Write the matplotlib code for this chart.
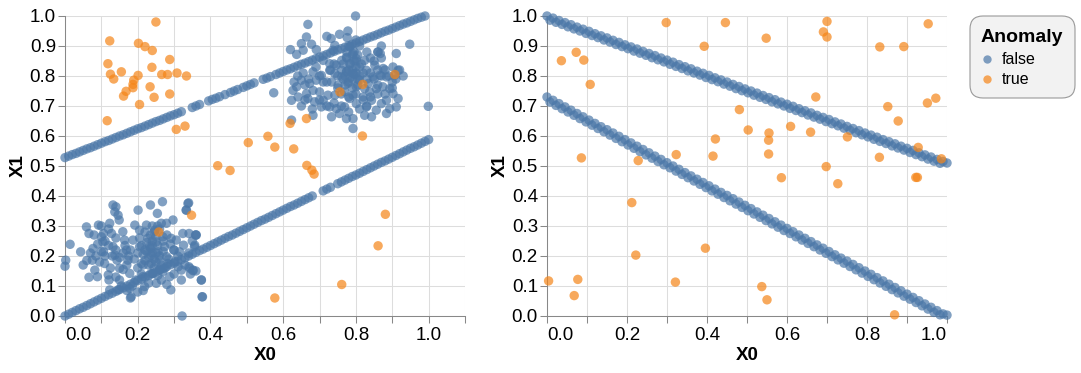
import numpy as np
import matplotlib
matplotlib.use("Agg")
import matplotlib.pyplot as plt
from matplotlib.patches import FancyBboxPatch
from matplotlib.lines import Line2D

plt.rcParams['font.family'] = ['Liberation Sans', 'DejaVu Sans']

# ---- data, left panel ----
# upper line of normal points
lu_x = [0.00, 0.01, 0.02, 0.03, 0.04, 0.05, 0.06, 0.07, 0.08, 0.09, 0.10, 0.11, 0.12, 0.13, 0.14, 0.15,
        0.16, 0.17, 0.18, 0.19, 0.20, 0.21, 0.22, 0.23, 0.24, 0.25, 0.26, 0.27, 0.28, 0.29, 0.30, 0.31,
        0.32, 0.35, 0.36, 0.37, 0.395, 0.405, 0.415, 0.425, 0.44, 0.455, 0.465, 0.475, 0.49, 0.50, 0.51,
        0.52, 0.545, 0.555, 0.565, 0.58, 0.59, 0.60, 0.61, 0.62, 0.63, 0.64, 0.65, 0.66, 0.67, 0.68, 0.69,
        0.70, 0.71, 0.72, 0.73, 0.74, 0.75, 0.76, 0.77, 0.78, 0.79, 0.80, 0.81, 0.82, 0.83, 0.84, 0.85,
        0.86, 0.87, 0.88, 0.89, 0.90, 0.91, 0.92, 0.93, 0.94, 0.95, 0.96, 0.97, 0.98, 0.99]
lu_y = [0.528, 0.533, 0.538, 0.542, 0.547, 0.552, 0.557, 0.561, 0.566, 0.571, 0.576, 0.581, 0.585, 0.590,
        0.595, 0.600, 0.604, 0.609, 0.614, 0.619, 0.624, 0.628, 0.633, 0.638, 0.643, 0.648, 0.652, 0.657,
        0.662, 0.667, 0.671, 0.676, 0.681, 0.695, 0.700, 0.705, 0.717, 0.722, 0.726, 0.731, 0.738, 0.745,
        0.750, 0.755, 0.762, 0.767, 0.772, 0.777, 0.789, 0.793, 0.798, 0.805, 0.810, 0.815, 0.820, 0.824,
        0.829, 0.834, 0.839, 0.843, 0.848, 0.853, 0.858, 0.863, 0.867, 0.872, 0.877, 0.882, 0.887, 0.891,
        0.896, 0.901, 0.906, 0.910, 0.915, 0.920, 0.925, 0.930, 0.934, 0.939, 0.944, 0.949, 0.953, 0.958,
        0.963, 0.968, 0.973, 0.977, 0.982, 0.987, 0.992, 0.996, 1.000]

# lower line of normal points
ll_x = [0.00, 0.01, 0.02, 0.03, 0.04, 0.05, 0.06, 0.07, 0.08, 0.09, 0.10, 0.11, 0.12, 0.13, 0.14, 0.15,
        0.16, 0.17, 0.18, 0.19, 0.20, 0.21, 0.22, 0.23, 0.24, 0.25, 0.26, 0.27, 0.28, 0.29, 0.30, 0.31,
        0.32, 0.33, 0.34, 0.35, 0.36, 0.37, 0.38, 0.39, 0.40, 0.41, 0.42, 0.43, 0.44, 0.45, 0.46, 0.47,
        0.48, 0.49, 0.50, 0.51, 0.52, 0.53, 0.54, 0.55, 0.56, 0.57, 0.58, 0.59, 0.60, 0.61, 0.62, 0.63,
        0.64, 0.65, 0.66, 0.67, 0.68, 0.71, 0.72, 0.73, 0.75, 0.76, 0.77, 0.78, 0.79, 0.80, 0.81, 0.82,
        0.83, 0.84, 0.85, 0.86, 0.87, 0.88, 0.89, 0.90, 0.91, 0.92, 0.93, 0.94, 0.95, 0.96, 0.97, 0.98,
        0.99, 1.00]
ll_y = [0.000, 0.006, 0.012, 0.018, 0.024, 0.029, 0.035, 0.041, 0.047, 0.053, 0.059, 0.065, 0.071, 0.076,
        0.082, 0.088, 0.094, 0.100, 0.106, 0.112, 0.118, 0.123, 0.129, 0.135, 0.141, 0.147, 0.153, 0.159,
        0.165, 0.171, 0.176, 0.182, 0.188, 0.194, 0.200, 0.206, 0.212, 0.218, 0.223, 0.229, 0.235, 0.241,
        0.247, 0.253, 0.259, 0.265, 0.270, 0.276, 0.282, 0.288, 0.294, 0.300, 0.306, 0.312, 0.318, 0.323,
        0.329, 0.335, 0.341, 0.347, 0.353, 0.359, 0.365, 0.370, 0.376, 0.382, 0.388, 0.394, 0.400, 0.417,
        0.423, 0.429, 0.441, 0.447, 0.453, 0.459, 0.465, 0.470, 0.476, 0.482, 0.488, 0.494, 0.500, 0.506,
        0.512, 0.517, 0.523, 0.529, 0.535, 0.541, 0.547, 0.553, 0.559, 0.564, 0.570, 0.576, 0.582, 0.588]

# lower-left cluster
c1_x = [0.002, 0.000, 0.014, 0.043, 0.059, 0.066, 0.092, 0.066, 0.089, 0.077, 0.075, 0.082, 0.100, 0.106,
        0.104, 0.106, 0.109, 0.119, 0.121, 0.123, 0.132, 0.137, 0.140, 0.146, 0.149, 0.123, 0.128, 0.132,
        0.137, 0.143, 0.150, 0.150, 0.146, 0.159, 0.164, 0.169, 0.173, 0.178, 0.178, 0.182, 0.187, 0.192,
        0.201, 0.205, 0.205, 0.210, 0.214, 0.219, 0.224, 0.228, 0.233, 0.235, 0.237, 0.237, 0.242, 0.247,
        0.251, 0.251, 0.254, 0.256, 0.260, 0.265, 0.268, 0.269, 0.269, 0.274, 0.279, 0.279, 0.283, 0.288,
        0.291, 0.292, 0.297, 0.299, 0.302, 0.306, 0.311, 0.315, 0.320, 0.324, 0.326, 0.334, 0.338, 0.341,
        0.343, 0.352, 0.357, 0.361, 0.375, 0.378, 0.322, 0.377, 0.375, 0.352, 0.341, 0.359, 0.340, 0.333,
        0.356,
        0.215, 0.225, 0.235, 0.245, 0.250, 0.255, 0.240, 0.230, 0.220, 0.260, 0.265, 0.245, 0.235, 0.250,
        0.270, 0.210, 0.200, 0.190, 0.180, 0.175, 0.160, 0.165, 0.150, 0.140, 0.130, 0.120, 0.110, 0.100,
        0.095, 0.085, 0.070, 0.060, 0.050, 0.200, 0.210, 0.195, 0.185, 0.170, 0.155, 0.140, 0.125, 0.205,
        0.220, 0.240, 0.260, 0.280, 0.290, 0.300, 0.310, 0.285, 0.275, 0.255, 0.265, 0.280, 0.300, 0.320,
        0.330, 0.340, 0.350, 0.360, 0.345, 0.360, 0.230, 0.215, 0.200, 0.180, 0.160, 0.170, 0.110, 0.090,
        0.080, 0.120, 0.100, 0.140, 0.225, 0.235, 0.245, 0.255, 0.270, 0.230, 0.240, 0.250, 0.260, 0.240,
        0.220, 0.215]
c1_y = [0.186, 0.166, 0.239, 0.214, 0.297, 0.275, 0.303, 0.129, 0.131, 0.225, 0.186, 0.153, 0.264, 0.275,
        0.247, 0.214, 0.175, 0.137, 0.120, 0.087, 0.370, 0.347, 0.364, 0.336, 0.320, 0.309, 0.275, 0.231,
        0.203, 0.186, 0.159, 0.120, 0.087, 0.281, 0.253, 0.220, 0.186, 0.142, 0.092, 0.064, 0.253, 0.303,
        0.353, 0.286, 0.231, 0.175, 0.131, 0.098, 0.303, 0.259, 0.231, 0.370, 0.203, 0.175, 0.142, 0.286,
        0.247, 0.109, 0.342, 0.214, 0.186, 0.309, 0.381, 0.264, 0.148, 0.231, 0.198, 0.309, 0.175, 0.131,
        0.087, 0.259, 0.320, 0.220, 0.181, 0.253, 0.164, 0.214, 0.153, 0.275, 0.236, 0.353, 0.375, 0.275,
        0.159, 0.153, 0.236, 0.270, 0.120, 0.064, 0.000, 0.064, 0.120, 0.151, 0.164, 0.270, 0.377, 0.353,
        0.231,
        0.205, 0.215, 0.225, 0.190, 0.210, 0.235, 0.250, 0.170, 0.185, 0.200, 0.170, 0.160, 0.140, 0.265,
        0.215, 0.235, 0.210, 0.190, 0.220, 0.200, 0.210, 0.235, 0.195, 0.220, 0.200, 0.235, 0.200, 0.215,
        0.180, 0.200, 0.210, 0.185, 0.170, 0.160, 0.140, 0.120, 0.100, 0.085, 0.100, 0.130, 0.160, 0.260,
        0.280, 0.300, 0.290, 0.270, 0.240, 0.220, 0.200, 0.190, 0.160, 0.135, 0.120, 0.105, 0.140, 0.120,
        0.170, 0.210, 0.250, 0.270, 0.140, 0.150, 0.110, 0.085, 0.080, 0.060, 0.155, 0.170, 0.250, 0.240,
        0.270, 0.290, 0.300, 0.260, 0.245, 0.270, 0.280, 0.300, 0.250, 0.195, 0.210, 0.180, 0.155, 0.235,
        0.220, 0.170]

# upper-right cluster
c2_x = [0.799, 0.668, 0.664, 0.620, 0.637, 0.650, 0.655, 0.678, 0.720, 0.732, 0.755, 0.778, 0.776, 0.742,
        0.737, 0.691, 0.948, 0.911, 0.861, 0.867, 0.824, 0.783, 0.792, 0.774, 0.761, 0.710, 0.728, 0.746,
        0.783, 0.801, 0.810, 0.829, 0.852, 0.875, 0.902, 0.916, 0.907, 0.884, 0.866, 0.847, 0.834, 0.810,
        0.792, 0.774, 0.761, 0.742, 0.728, 0.705, 0.682, 0.655, 0.650, 0.673, 0.691, 0.710, 0.733, 0.751,
        0.778, 0.801, 0.824, 0.838, 0.856, 0.874, 0.893, 0.902, 0.916, 0.884, 0.870, 0.843, 0.820, 0.792,
        0.769, 0.742, 0.723, 0.700, 0.682, 0.664, 0.637, 0.627, 0.623, 0.641, 0.668, 0.686, 0.710, 0.728,
        0.746, 0.769, 0.783, 0.801, 0.829, 0.856, 0.884, 0.893, 0.911, 0.999, 0.843, 0.824, 0.792, 0.774,
        0.755, 0.733, 0.705, 0.682, 0.623, 0.792, 0.574,
        0.770, 0.780, 0.790, 0.800, 0.785, 0.775, 0.795, 0.810, 0.805, 0.790, 0.770, 0.760, 0.750, 0.765,
        0.780, 0.800, 0.815, 0.820, 0.830, 0.840, 0.850, 0.860, 0.870, 0.880, 0.890, 0.900, 0.860, 0.850,
        0.870, 0.740, 0.730, 0.720, 0.700, 0.690, 0.670, 0.660, 0.640, 0.630, 0.750, 0.760, 0.780, 0.800,
        0.820, 0.840, 0.860, 0.880, 0.900, 0.910, 0.920, 0.930, 0.720, 0.740, 0.760, 0.780, 0.810, 0.830,
        0.700, 0.680, 0.660, 0.650, 0.795, 0.805, 0.775, 0.810, 0.800, 0.785, 0.790, 0.775, 0.795, 0.785,
        0.765, 0.805, 0.800, 0.790, 0.840, 0.830, 0.860, 0.870]
c2_y = [1.000, 0.972, 0.930, 0.888, 0.872, 0.908, 0.886, 0.906, 0.932, 0.925, 0.939, 0.950, 0.928, 0.902,
        0.886, 0.888, 0.906, 0.875, 0.880, 0.875, 0.852, 0.897, 0.875, 0.863, 0.852, 0.852, 0.841, 0.836,
        0.841, 0.858, 0.830, 0.819, 0.836, 0.825, 0.830, 0.819, 0.802, 0.797, 0.802, 0.797, 0.775, 0.786,
        0.808, 0.814, 0.797, 0.808, 0.819, 0.802, 0.814, 0.810, 0.786, 0.775, 0.786, 0.780, 0.780, 0.769,
        0.775, 0.764, 0.758, 0.747, 0.758, 0.764, 0.758, 0.741, 0.725, 0.719, 0.708, 0.719, 0.730, 0.736,
        0.747, 0.736, 0.736, 0.747, 0.752, 0.741, 0.764, 0.752, 0.719, 0.730, 0.725, 0.714, 0.719, 0.697,
        0.691, 0.697, 0.725, 0.708, 0.697, 0.686, 0.675, 0.691, 0.697, 0.699, 0.664, 0.669, 0.658, 0.658,
        0.675, 0.664, 0.697, 0.669, 0.653, 0.625, 0.744,
        0.800, 0.820, 0.790, 0.810, 0.840, 0.860, 0.850, 0.800, 0.770, 0.760, 0.770, 0.820, 0.800, 0.840,
        0.780, 0.830, 0.840, 0.810, 0.790, 0.810, 0.790, 0.820, 0.800, 0.820, 0.800, 0.780, 0.770, 0.850,
        0.860, 0.840, 0.820, 0.780, 0.800, 0.830, 0.790, 0.770, 0.800, 0.780, 0.760, 0.740, 0.730, 0.740,
        0.720, 0.730, 0.740, 0.740, 0.760, 0.790, 0.820, 0.800, 0.700, 0.710, 0.700, 0.680, 0.690, 0.700,
        0.720, 0.690, 0.720, 0.700, 0.880, 0.870, 0.880, 0.900, 0.920, 0.900, 0.820, 0.815, 0.805, 0.795,
        0.790, 0.790, 0.850, 0.870, 0.860, 0.880, 0.880, 0.900]

# anomalies, left panel
la_x = [0.123, 0.118, 0.125, 0.134, 0.155, 0.116, 0.161, 0.168, 0.189, 0.187, 0.187, 0.202, 0.220, 0.201,
        0.205, 0.250, 0.240, 0.239, 0.234, 0.245, 0.266, 0.282, 0.288, 0.288, 0.308, 0.334, 0.306, 0.330,
        0.420, 0.454, 0.504, 0.558, 0.577, 0.629, 0.619, 0.664, 0.665, 0.679, 0.685, 0.756, 0.819, 0.818,
        0.907, 0.881, 0.861, 0.761, 0.577, 0.348, 0.258]
la_y = [0.917, 0.841, 0.806, 0.790, 0.814, 0.651, 0.733, 0.749, 0.786, 0.772, 0.761, 0.909, 0.898, 0.802,
        0.705, 0.980, 0.885, 0.829, 0.764, 0.729, 0.805, 0.805, 0.855, 0.740, 0.810, 0.800, 0.622, 0.633,
        0.501, 0.485, 0.578, 0.599, 0.563, 0.557, 0.642, 0.658, 0.502, 0.486, 0.473, 0.747, 0.772, 0.600,
        0.805, 0.339, 0.234, 0.105, 0.060, 0.336, 0.280]

# ---- data, right panel ----
r_x = [0.000, 0.015, 0.030, 0.045, 0.060, 0.075, 0.090, 0.105, 0.120, 0.135, 0.150, 0.165, 0.180, 0.195,
       0.210, 0.225, 0.240, 0.255, 0.270, 0.285, 0.300, 0.315, 0.330, 0.345, 0.360, 0.375, 0.390, 0.405,
       0.420, 0.435, 0.450, 0.465, 0.480, 0.495, 0.510, 0.525, 0.540, 0.555, 0.570, 0.585, 0.600, 0.615,
       0.630, 0.645, 0.660, 0.675, 0.690, 0.705, 0.720, 0.735, 0.750, 0.765, 0.780, 0.795, 0.810, 0.825,
       0.840, 0.855, 0.870, 0.885, 0.900, 0.915, 0.930, 0.945, 0.960, 0.975, 0.990, 1.000]
ru_y = [1.000, 0.993, 0.985, 0.978, 0.971, 0.963, 0.956, 0.949, 0.941, 0.934, 0.927, 0.919, 0.912, 0.904,
        0.897, 0.890, 0.882, 0.875, 0.868, 0.860, 0.853, 0.846, 0.838, 0.831, 0.824, 0.816, 0.809, 0.802,
        0.794, 0.787, 0.780, 0.772, 0.765, 0.757, 0.750, 0.743, 0.735, 0.728, 0.721, 0.713, 0.706, 0.699,
        0.691, 0.684, 0.677, 0.669, 0.662, 0.655, 0.647, 0.640, 0.632, 0.625, 0.618, 0.610, 0.603, 0.596,
        0.588, 0.581, 0.574, 0.566, 0.559, 0.552, 0.544, 0.537, 0.530, 0.522, 0.515, 0.510]
rl_y = [0.730, 0.719, 0.708, 0.697, 0.686, 0.675, 0.664, 0.653, 0.642, 0.631, 0.621, 0.610, 0.599, 0.588,
        0.577, 0.566, 0.555, 0.544, 0.533, 0.522, 0.511, 0.500, 0.489, 0.478, 0.467, 0.456, 0.445, 0.434,
        0.423, 0.412, 0.402, 0.391, 0.380, 0.369, 0.358, 0.347, 0.336, 0.325, 0.314, 0.303, 0.292, 0.281,
        0.270, 0.259, 0.248, 0.237, 0.226, 0.215, 0.204, 0.193, 0.183, 0.172, 0.161, 0.150, 0.139, 0.128,
        0.117, 0.106, 0.095, 0.084, 0.073, 0.062, 0.051, 0.040, 0.029, 0.018, 0.007, 0.003]
# second row of points, a little below each line
r_x2 = [0.0075, 0.0225, 0.0375, 0.0525, 0.0675, 0.0825, 0.0975, 0.1125, 0.1275, 0.1425, 0.1575, 0.1725,
        0.1875, 0.2025, 0.2175, 0.2325, 0.2475, 0.2625, 0.2775, 0.2925, 0.3075, 0.3225, 0.3375, 0.3525,
        0.3675, 0.3825, 0.3975, 0.4125, 0.4275, 0.4425, 0.4575, 0.4725, 0.4875, 0.5025, 0.5175, 0.5325,
        0.5475, 0.5625, 0.5775, 0.5925, 0.6075, 0.6225, 0.6375, 0.6525, 0.6675, 0.6825, 0.6975, 0.7125,
        0.7275, 0.7425, 0.7575, 0.7725, 0.7875, 0.8025, 0.8175, 0.8325, 0.8475, 0.8625, 0.8775, 0.8925,
        0.9075, 0.9225, 0.9375, 0.9525, 0.9675, 0.9825]
ru_y2 = [0.986, 0.979, 0.972, 0.964, 0.957, 0.950, 0.942, 0.935, 0.928, 0.920, 0.913, 0.905, 0.898, 0.891,
         0.883, 0.876, 0.869, 0.861, 0.854, 0.847, 0.839, 0.832, 0.825, 0.817, 0.810, 0.803, 0.795, 0.788,
         0.781, 0.773, 0.766, 0.758, 0.751, 0.744, 0.736, 0.729, 0.722, 0.714, 0.707, 0.700, 0.692, 0.685,
         0.678, 0.670, 0.663, 0.656, 0.648, 0.641, 0.634, 0.626, 0.619, 0.611, 0.604, 0.597, 0.589, 0.582,
         0.575, 0.567, 0.560, 0.553, 0.545, 0.538, 0.531, 0.523, 0.516, 0.509]
rl_y2 = [0.713, 0.702, 0.691, 0.680, 0.669, 0.658, 0.647, 0.636, 0.625, 0.614, 0.603, 0.592, 0.581, 0.570,
         0.559, 0.548, 0.537, 0.526, 0.515, 0.504, 0.494, 0.483, 0.472, 0.461, 0.450, 0.439, 0.428, 0.417,
         0.406, 0.395, 0.384, 0.373, 0.362, 0.351, 0.340, 0.329, 0.318, 0.307, 0.296, 0.285, 0.275, 0.264,
         0.253, 0.242, 0.231, 0.220, 0.209, 0.198, 0.187, 0.176, 0.165, 0.154, 0.143, 0.132, 0.121, 0.110,
         0.099, 0.088, 0.077, 0.066, 0.056, 0.045, 0.034, 0.023, 0.012, 0.004]

ra_x = [0.004, 0.036, 0.073, 0.092, 0.108, 0.086, 0.068, 0.077, 0.212, 0.228, 0.222, 0.298, 0.323, 0.321,
        0.393, 0.446, 0.396, 0.415, 0.421, 0.481, 0.503, 0.548, 0.555, 0.554, 0.554, 0.537, 0.550, 0.586,
        0.609, 0.659, 0.672, 0.691, 0.700, 0.700, 0.698, 0.727, 0.751, 0.832, 0.831, 0.852, 0.878, 0.892,
        0.869, 0.922, 0.926, 0.928, 0.951, 0.972, 0.953, 0.986]
ra_y = [0.117, 0.851, 0.879, 0.853, 0.772, 0.527, 0.068, 0.122, 0.378, 0.518, 0.203, 0.978, 0.538, 0.113,
        0.899, 0.978, 0.226, 0.533, 0.590, 0.688, 0.620, 0.926, 0.610, 0.586, 0.540, 0.098, 0.054, 0.461,
        0.632, 0.613, 0.730, 0.947, 0.982, 0.930, 0.498, 0.441, 0.597, 0.897, 0.529, 0.698, 0.650, 0.898,
        0.004, 0.462, 0.462, 0.562, 0.710, 0.726, 0.974, 0.524]

blue = '#4c78a8'
orange = '#f58518'
W, H = 1081, 373

fig = plt.figure(figsize=(W / 100, H / 100), dpi=100)
ax1 = fig.add_axes([65 / W, 57 / H, 400 / W, 300 / H])
ax2 = fig.add_axes([547 / W, 57 / H, 400 / W, 300 / H])


def style_axis(ax, xmax):
    ax.set_xlim(0, xmax)
    ax.set_ylim(0, 1.0)
    xt = np.round(np.arange(0, xmax + 0.001, 0.1), 1)
    ax.set_xticks(xt)
    ax.set_xticklabels(['%.1f' % v if i % 2 == 0 else '' for i, v in enumerate(xt)])
    yt = np.round(np.arange(0, 1.001, 0.1), 1)
    ax.set_yticks(yt)
    ax.set_yticklabels(['%.1f' % v for v in yt])
    ax.grid(True, color='#dddddd', linewidth=0.75)
    ax.set_axisbelow(True)
    for s in ['top', 'right']:
        ax.spines[s].set_visible(False)
    for s in ['left', 'bottom']:
        ax.spines[s].set_color('#888888')
        ax.spines[s].set_linewidth(0.75)
    ax.tick_params(axis='both', colors='#888888', width=0.75, length=5, labelsize=13.5,
                   labelcolor='black')
    ax.tick_params(axis='x', pad=3)
    ax.tick_params(axis='y', pad=1.5)
    # flush first / last x labels like vega
    labs = ax.get_xticklabels()
    labs[0].set_horizontalalignment('left')
    if xmax == 1.0:
        labs[-1].set_horizontalalignment('right')
    ax.set_xlabel('X0', fontsize=13.5, fontweight='bold', labelpad=2)
    ax.set_ylabel('X1', fontsize=13.5, fontweight='bold', labelpad=2)
    ax.set_facecolor('white')


ms = 46
norm_x1 = lu_x + ll_x + c1_x + c2_x
norm_y1 = lu_y + ll_y + c1_y + c2_y
ax1.scatter(norm_x1, norm_y1, s=ms, color=blue, alpha=0.7, edgecolors='none', clip_on=False, zorder=3)
ax1.scatter(la_x, la_y, s=ms, color=orange, alpha=0.7, edgecolors='none', clip_on=False, zorder=3)
style_axis(ax1, 1.1)

norm_x2 = r_x + r_x2 + r_x + r_x2
norm_y2 = ru_y + ru_y2 + rl_y + rl_y2
ax2.scatter(norm_x2, norm_y2, s=ms, color=blue, alpha=0.7, edgecolors='none', clip_on=False, zorder=3)
ax2.scatter(ra_x, ra_y, s=ms, color=orange, alpha=0.7, edgecolors='none', clip_on=False, zorder=3)
style_axis(ax2, 1.0)

# legend box drawn by hand in pixel coordinates
box = FancyBboxPatch((970 / W, 1 - 98 / H), 105 / W, 82 / H,
                     boxstyle='round,pad=0,rounding_size=0.012',
                     transform=fig.transFigure, facecolor='#f2f2f2', edgecolor='#999999',
                     linewidth=0.8, mutation_aspect=W / H)
fig.add_artist(box)
fig.text(981 / W, 1 - 37 / H, 'Anomaly', fontsize=14, fontweight='bold', va='center', ha='left')
for lab, col, yy in [('false', blue, 59), ('true', orange, 79)]:
    fig.add_artist(Line2D([987 / W], [1 - yy / H], marker='o', markersize=6, color=col, alpha=0.7,
                          markeredgewidth=0, transform=fig.transFigure))
    fig.text(1002 / W, 1 - yy / H, lab, fontsize=11.5, va='center', ha='left')

fig.savefig('out.png', dpi=100)
